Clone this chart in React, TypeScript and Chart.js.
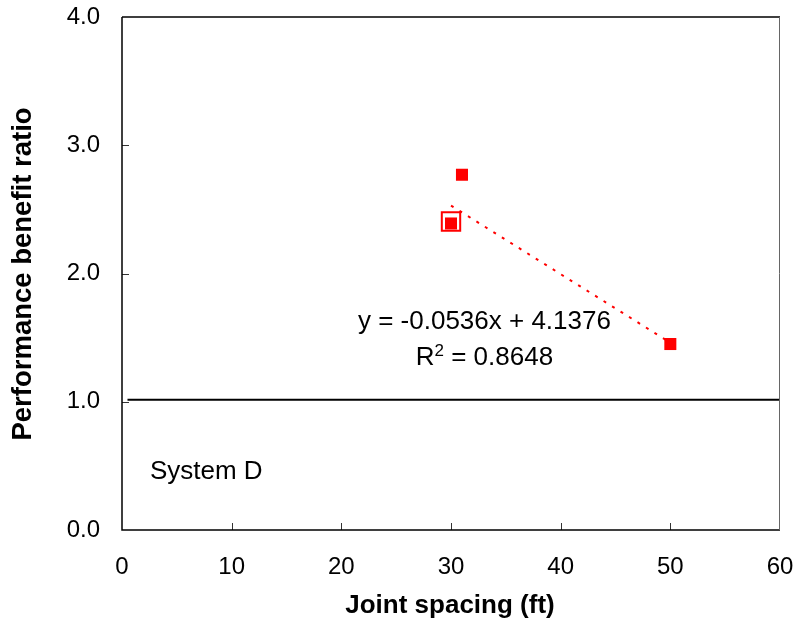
import React, { useEffect, useRef } from 'react';
import { Chart, registerables } from 'chart.js';
Chart.register(...registerables);

// ---- data ----
const pointX = [30, 31, 50];
const pointY = [2.39, 2.77, 1.45];
const highlightX = [30];
const highlightY = [2.405];
const trendX = [30, 50];
const trendY = [2.53, 1.46];
const refX = [0.5, 60];
const refY = [1.015, 1.015];
const xTickValues = [0, 10, 20, 30, 40, 50, 60];
const yTickValues = [0, 1, 2, 3, 4];
const equationText = 'y = -0.0536x + 4.1376';
const r2Value = '0.8648';
const systemLabel = 'System D';
const xTitle = 'Joint spacing (ft)';
const yTitle = 'Performance benefit ratio';
// annotation anchor positions (data coords)
const equationPos = [33.05, 1.565];
const r2Pos = [33.05, 1.29];
const systemPos = [2.55, 0.40];

const FONT = '"Liberation Sans", Arial, sans-serif';

const toPts = (xs: number[], ys: number[]) => xs.map((x, i) => ({ x, y: ys[i] }));

const decorPlugin = {
  id: 'decor',
  afterDraw(chart: any) {
    const ctx = chart.ctx;
    const { left, right, top, bottom } = chart.chartArea;
    const xs = chart.scales.x;
    const ys = chart.scales.y;
    ctx.save();
    // inside tick marks
    ctx.strokeStyle = '#333';
    ctx.lineWidth = 1;
    yTickValues.forEach((v) => {
      if (v === 0 || v === 4) return;
      const py = Math.round(ys.getPixelForValue(v)) + 0.5;
      ctx.beginPath();
      ctx.moveTo(left, py);
      ctx.lineTo(left + 7, py);
      ctx.stroke();
    });
    xTickValues.forEach((v) => {
      if (v === 0 || v === 60) return;
      const px = Math.round(xs.getPixelForValue(v)) + 0.5;
      ctx.beginPath();
      ctx.moveTo(px, bottom);
      ctx.lineTo(px, bottom - 7);
      ctx.stroke();
    });
    // frame
    ctx.strokeStyle = '#000';
    ctx.lineWidth = 1.5;
    ctx.beginPath();
    ctx.moveTo(left, top);
    ctx.lineTo(right, top);
    ctx.moveTo(left, top);
    ctx.lineTo(left, bottom);
    ctx.lineTo(right, bottom);
    ctx.stroke();
    ctx.strokeStyle = '#666';
    ctx.lineWidth = 1;
    ctx.beginPath();
    ctx.moveTo(right - 0.5, top);
    ctx.lineTo(right - 0.5, bottom);
    ctx.stroke();

    // annotations
    ctx.fillStyle = '#000';
    ctx.font = `26px ${FONT}`;
    ctx.textBaseline = 'alphabetic';
    ctx.textAlign = 'center';
    ctx.fillText(equationText, xs.getPixelForValue(equationPos[0]), ys.getPixelForValue(equationPos[1]));
    // R^2 line
    const rest = ' = ' + r2Value;
    const wR = ctx.measureText('R').width;
    ctx.font = `17px ${FONT}`;
    const w2 = ctx.measureText('2').width;
    ctx.font = `26px ${FONT}`;
    const wRest = ctx.measureText(rest).width;
    const total = wR + w2 + wRest;
    const cx = xs.getPixelForValue(r2Pos[0]);
    const by = ys.getPixelForValue(r2Pos[1]);
    let sx = cx - total / 2;
    ctx.textAlign = 'left';
    ctx.fillText('R', sx, by);
    sx += wR;
    ctx.font = `17px ${FONT}`;
    ctx.fillText('2', sx, by - 9);
    sx += w2;
    ctx.font = `26px ${FONT}`;
    ctx.fillText(rest, sx, by);
    // System label
    ctx.fillText(systemLabel, xs.getPixelForValue(systemPos[0]), ys.getPixelForValue(systemPos[1]));

    // axis titles
    ctx.font = `bold 26px ${FONT}`;
    ctx.textAlign = 'center';
    ctx.textBaseline = 'middle';
    ctx.fillText(xTitle, (left + right) / 2 - 1, 606);
    ctx.font = `bold 27.5px ${FONT}`;
    ctx.translate(23, 274);
    ctx.rotate(-Math.PI / 2);
    ctx.fillText(yTitle, 0, 0);
    ctx.restore();
  },
};

export default function App() {
  const ref = useRef<HTMLCanvasElement | null>(null);
  useEffect(() => {
    if (!ref.current) return;
    const chart = new Chart(ref.current, {
      type: 'scatter',
      data: {
        datasets: [
          {
            label: 'points',
            data: toPts(pointX, pointY),
            pointStyle: 'rect',
            pointRadius: 8.5,
            pointBackgroundColor: '#ff0000',
            pointBorderColor: '#ff0000',
            pointBorderWidth: 0,
            showLine: false,
          },
          {
            label: 'highlight',
            data: toPts(highlightX, highlightY),
            pointStyle: 'rect',
            pointRadius: 13,
            pointBackgroundColor: 'rgba(255,255,255,0)',
            pointBorderColor: '#ff0000',
            pointBorderWidth: 2,
            showLine: false,
          },
          {
            label: 'trend',
            data: toPts(trendX, trendY),
            showLine: true,
            borderColor: '#ff0000',
            borderWidth: 2,
            borderDash: [3, 7],
            pointRadius: 0,
            fill: false,
          },
          {
            label: 'ref',
            data: toPts(refX, refY),
            showLine: true,
            borderColor: '#000',
            borderWidth: 2,
            pointRadius: 0,
            fill: false,
          },
        ],
      },
      options: {
        responsive: false,
        animation: false,
        layout: { padding: { top: 17, right: 16, left: 0, bottom: 0 } },
        plugins: { legend: { display: false }, tooltip: { enabled: false } },
        scales: {
          x: {
            type: 'linear',
            min: 0,
            max: 60,
            grid: { display: false, drawTicks: false },
            border: { display: false },
            ticks: {
              stepSize: 10,
              color: '#000',
              font: { size: 24, family: FONT },
              padding: 23,
              maxRotation: 0,
            },
            afterFit: (s: any) => {
              s.height = 96;
              s.paddingLeft = 0;
              s.paddingRight = 0;
            },
          },
          y: {
            type: 'linear',
            min: 0,
            max: 4,
            grid: { display: false, drawTicks: false },
            border: { display: false },
            ticks: {
              stepSize: 1,
              color: '#000',
              font: { size: 24, family: FONT },
              padding: 22,
              callback: (v: any) => Number(v).toFixed(1),
            },
            afterFit: (s: any) => {
              s.width = 122;
              s.paddingTop = 0;
              s.paddingBottom = 0;
            },
          },
        },
      },
      plugins: [decorPlugin],
    });
    return () => chart.destroy();
  }, []);
  return (
    <div style={{ position: 'absolute', left: 0, top: 0, width: 796, height: 626, background: '#fff' }}>
      <canvas ref={ref} width={796} height={626} style={{ width: 796, height: 626, display: 'block' }} />
    </div>
  );
}
